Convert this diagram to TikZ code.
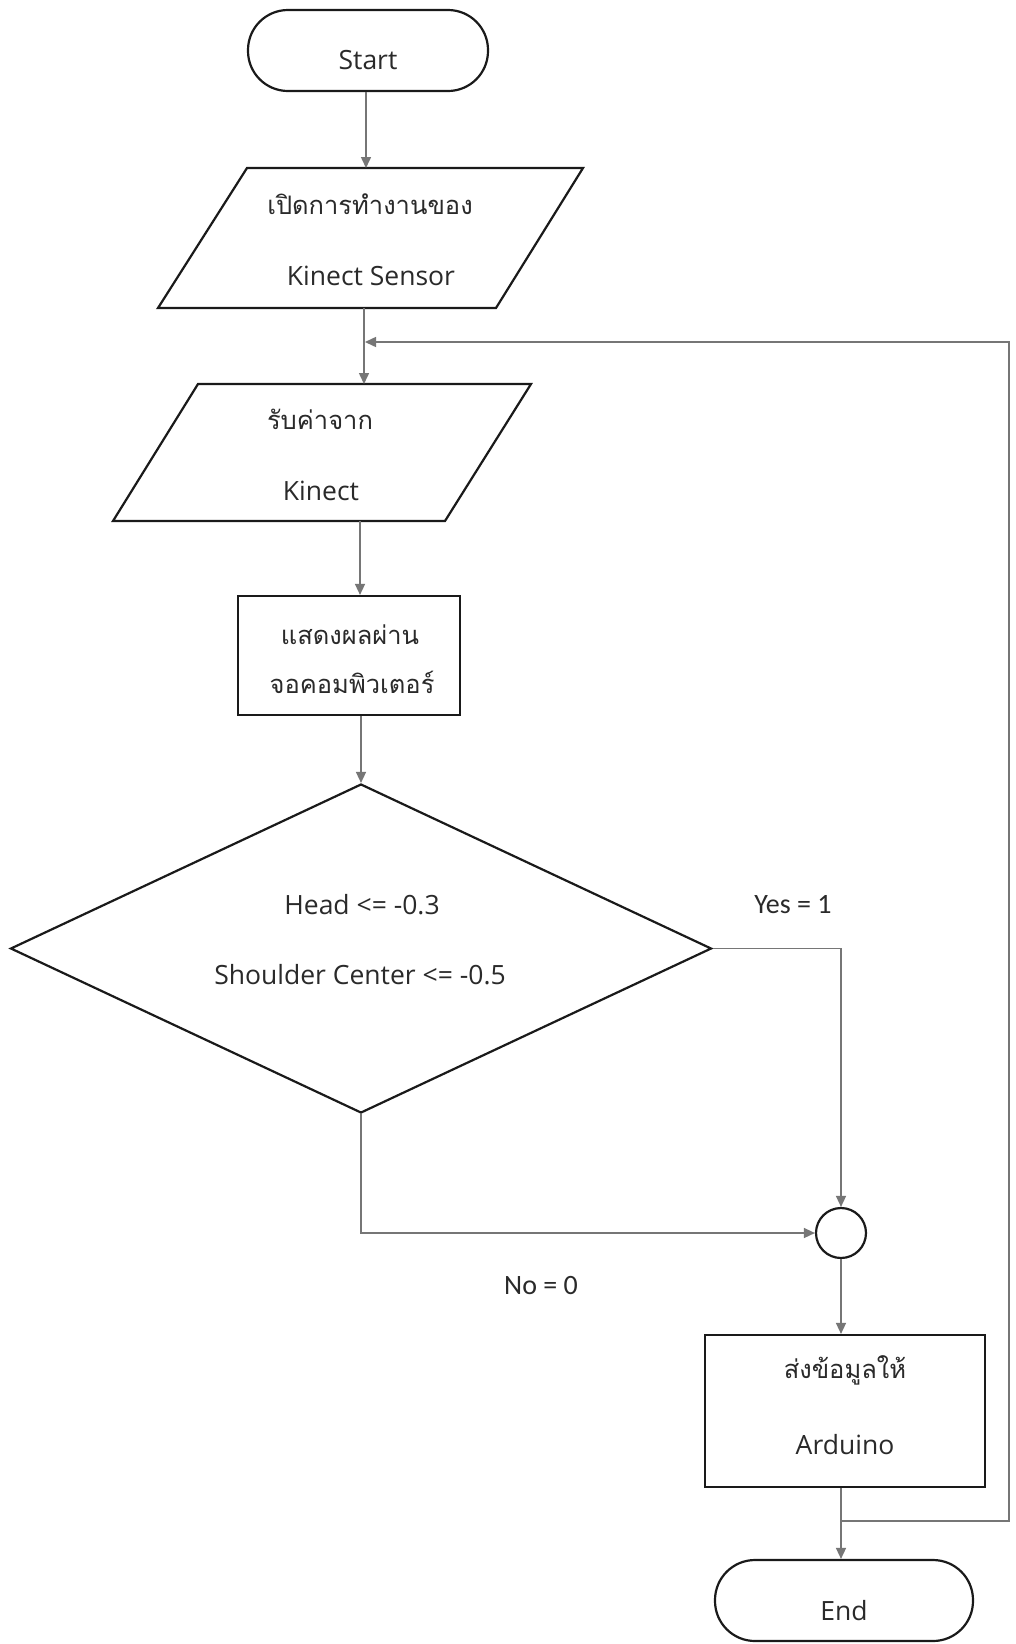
\documentclass[tikz,border=0pt]{standalone}
\usepackage{fontspec}
\setmainfont{Open Sans}
\newfontfamily\thaifont[Script=Thai]{Loma}
\newfontfamily\califont{Carlito}
\usetikzlibrary{arrows.meta,shapes.geometric}
\definecolor{outl}{HTML}{1A1A1A}
\definecolor{conn}{HTML}{767676}
\definecolor{ink}{HTML}{2A2A2A}
\begin{document}
\begin{tikzpicture}[x=1pt,y=-1pt,
  outline/.style={draw=outl, line width=2.2pt, inner sep=0pt, line join=miter},
  term/.style={outline, rectangle, rounded corners=40pt, minimum width=240pt, minimum height=81pt},
  procbox/.style={outline, rectangle},
  txt/.style={font=\fontsize{26.5}{30}\selectfont, text=ink, inner sep=0pt},
  thai/.style={font=\thaifont\fontsize{25.5}{30}\selectfont, text=ink, inner sep=0pt},
  lbl/.style={font=\califont\fontsize{28}{30}\selectfont, text=ink, inner sep=0pt},
  flow/.style={draw=conn, line width=1.5pt, -{Triangle[length=11pt,width=10pt]}}]

\useasboundingbox (0,0) rectangle (1016,1644);
\fill[white] (0,0) rectangle (1016,1644);

% ---- shapes ----
\node[term] (start) at (368,50.5) {};
\node[txt] (starttxt) at (368,60) {Start};

% input/output 1
\draw[outline] (247,168) -- (583,168) -- (496,308) -- (158,308) -- cycle;
\coordinate (p1n) at (366,168);
\coordinate (p1s) at (364,308);
\node[thai] (p1a) at (370,204) {เปิดการทำงานของ};
\node[txt]  (p1b) at (371,276) {Kinect Sensor};

% input/output 2
\draw[outline] (198,384) -- (531,384) -- (445,521) -- (113,521) -- cycle;
\coordinate (p2n) at (364,384);
\coordinate (p2s) at (360,521);
\node[thai] (p2a) at (320,419) {รับค่าจาก};
\node[txt]  (p2b) at (321,491) {Kinect};

\node[procbox, minimum width=222pt, minimum height=119pt] (r1) at (349,655.5) {};
\node[thai] (r1a) at (350,635) {แสดงผลผ่าน};
\node[thai] (r1b) at (352,682) {จอคอมพิวเตอร์};

\node[outline, diamond, minimum width=701pt, minimum height=329pt, aspect=2.13] (d) at (361,948.5) {};
\node[txt] (da) at (362,905) {Head <= -0.3};
\node[txt] (db) at (360,975) {Shoulder Center <= -0.5};

\node[outline, circle, minimum size=50pt] (c) at (841,1233) {};

\node[procbox, minimum width=280pt, minimum height=152pt] (r2) at (845,1411) {};
\node[thai] (r2a) at (845,1370) {ส่งข้อมูลให้};
\node[txt]  (r2b) at (845,1445) {Arduino};

\node[term, minimum width=258pt] (end) at (844,1600.5) {};
\node[txt] (endtxt) at (844,1611) {End};

\node[lbl] (yes) at (793,905) {Yes = 1};
\node[lbl] (no)  at (541,1285) {No = 0};

% ---- helper coordinates ----
\coordinate (jn) at (841,1521);
\coordinate (rt1) at (1009,1521);
\coordinate (rt2) at (1009,342);
\coordinate (lp) at (365,342);

% ---- connectors ----
\draw[flow] (start.south -| p1n) -- (p1n);
\draw[flow] (p1s) -- (p2n -| p1s);
\draw[flow] (p2s) -- (r1.north -| p2s);
\draw[flow] (r1.south -| d.north) -- (d.north);
\draw[flow] (d.east) -| (c.north);
\draw[flow] (d.south) |- (c.west);
\draw[flow] (c.south) -- (c.south |- r2.north);
\draw[flow] (c.south |- r2.south) -- (c.south |- end.north);
\draw[flow] (jn) -- (rt1) -- (rt2) -- (lp);
\end{tikzpicture}
\end{document}
